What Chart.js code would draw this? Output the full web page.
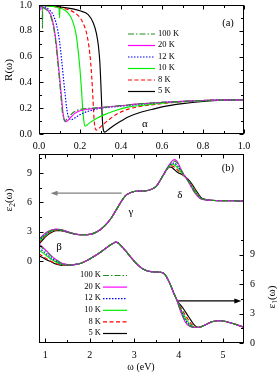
<!DOCTYPE html>
<html><head><meta charset="utf-8">
<script src="https://cdn.jsdelivr.net/npm/chart.js@4.4.0/dist/chart.umd.min.js"></script>
<style>
html,body{margin:0;padding:0;background:#fff;overflow:hidden;}
#wa{position:absolute;left:0;top:0;width:277px;height:150px;}
#wb{position:absolute;left:0;top:150px;width:277px;height:222px;}
</style></head><body>
<div id="wa"><canvas id="cA" width="277" height="150"></canvas></div>
<div id="wb"><canvas id="cB" width="277" height="222"></canvas></div>
<script>
// ---------- series styling ----------
const seriesLabels = ['100 K','20 K','12 K','10 K','8 K','5 K'];
const seriesColors = ['#228b22','#ff00ff','#0000ff','#00ee00','#ff0000','#000000'];
const seriesDash   = [[6,2,1.5,2],[],[1.5,1.5],[],[4,2.5],[]];

// ---------- panel (a): R(omega) ----------
const wA100 = [0,0.01,0.016,0.017,0.018,0.03,0.045,0.055,0.065,0.075,0.085,0.095,0.102,0.108,0.114,0.12,0.127,0.135,0.15,0.17,0.2,0.25,0.3,0.4,0.5,0.6,0.7,0.8,0.9,1.0];
const rA100 = [1.0,0.99,0.985,0.82,0.98,0.97,0.95,0.92,0.87,0.79,0.66,0.5,0.38,0.27,0.17,0.12,0.1,0.115,0.14,0.17,0.19,0.2,0.205,0.22,0.235,0.245,0.253,0.26,0.263,0.265];
const wA20  = [0,0.008,0.009,0.01,0.03,0.045,0.055,0.065,0.075,0.085,0.095,0.103,0.11,0.116,0.122,0.13,0.14,0.155,0.175,0.2,0.25,0.3,0.4,0.5,0.6,0.7,0.8,0.9,1.0];
const rA20  = [1.0,0.995,0.96,0.99,0.975,0.955,0.93,0.885,0.81,0.69,0.53,0.4,0.28,0.18,0.12,0.095,0.105,0.13,0.16,0.18,0.195,0.205,0.22,0.235,0.245,0.253,0.26,0.263,0.265];
const wA12  = [0,0.02,0.04,0.055,0.07,0.085,0.1,0.11,0.12,0.128,0.135,0.142,0.15,0.158,0.17,0.19,0.22,0.26,0.3,0.4,0.5,0.6,0.7,0.8,0.9,1.0];
const rA12  = [1.0,0.99,0.975,0.955,0.92,0.85,0.72,0.58,0.42,0.3,0.2,0.14,0.115,0.11,0.12,0.14,0.165,0.185,0.2,0.215,0.232,0.245,0.253,0.26,0.264,0.267];
const wA10  = [0,0.05,0.098,0.1,0.102,0.13,0.15,0.165,0.18,0.19,0.2,0.207,0.213,0.219,0.225,0.235,0.25,0.28,0.32,0.37,0.44,0.5,0.6,0.7,0.8,0.9,1.0];
const rA10  = [1.0,0.99,0.975,0.9,0.975,0.955,0.92,0.87,0.78,0.66,0.5,0.35,0.2,0.1,0.06,0.07,0.09,0.12,0.15,0.18,0.21,0.222,0.238,0.25,0.258,0.263,0.266];
const wA8   = [0,0.05,0.1,0.15,0.19,0.215,0.235,0.248,0.257,0.263,0.268,0.273,0.28,0.29,0.31,0.34,0.38,0.44,0.5,0.6,0.7,0.8,0.9,1.0];
const rA8   = [1.0,0.993,0.98,0.96,0.92,0.86,0.76,0.62,0.45,0.28,0.13,0.05,0.03,0.04,0.07,0.11,0.155,0.195,0.215,0.235,0.25,0.26,0.265,0.268];
const wA5   = [0,0.1,0.2,0.24,0.265,0.28,0.29,0.297,0.302,0.306,0.31,0.316,0.322,0.335,0.36,0.4,0.44,0.5,0.55,0.6,0.7,0.8,0.9,1.0];
const rA5   = [1.0,0.985,0.955,0.925,0.86,0.78,0.68,0.55,0.38,0.22,0.09,0.02,0.015,0.03,0.06,0.1,0.135,0.17,0.19,0.21,0.235,0.252,0.262,0.266];
const xTicksA = [0,0.2,0.4,0.6,0.8,1.0];
const yTicksA = [0,0.2,0.4,0.6,0.8,1.0];

// ---------- panel (b): eps2 (left) and eps1 (right) ----------
const wB = [0.86,0.95,1.05,1.15,1.25,1.35,1.45,1.55,1.65,1.8,1.95,2.1,2.25,2.4,2.5,2.6,2.7,2.8,2.9,3.0,3.1,3.2,3.3,3.4,3.5,3.6,3.7,3.8,3.85,3.9,3.95,4.0,4.05,4.1,4.15,4.2,4.25,4.3,4.35,4.4,4.45,4.5,4.6,4.7,4.8,4.9,5.0,5.1,5.2,5.3,5.4,5.47];
const e2_100 = [2.15,2.6,2.95,3.16,3.25,3.2,3.06,2.92,2.79, 2.68,2.7,2.85,3.25,3.9,4.5,5.25,6.0,6.65,6.95,7.1,7.15,7.15,7.2,7.35,7.65,8.35, 9.15,9.85,10.1,10.2,10.1,9.8,9.35,8.95,8.6,8.25,7.85,7.45,7.1,6.8,6.55,6.38, 6.25,6.2,6.18,6.17,6.17,6.16,6.16,6.15,6.15,6.15];
const e2_20  = [2.25,2.65,2.98,3.18,3.27,3.22,3.08,2.93,2.8, 2.68,2.7,2.85,3.25,3.9,4.5,5.25,6.0,6.65,6.95,7.1,7.15,7.15,7.2,7.35,7.65,8.35, 9.15,9.9,10.2,10.35,10.25,9.9,9.4,8.95,8.6,8.25,7.85,7.45,7.05,6.75,6.5,6.35, 6.25,6.2,6.18,6.17,6.17,6.16,6.16,6.15,6.15,6.15];
const e2_12  = [2.05,2.5,2.88,3.12,3.22,3.18,3.05,2.91,2.79, 2.68,2.7,2.85,3.25,3.9,4.5,5.25,6.0,6.65,6.95,7.1,7.15,7.15,7.2,7.35,7.65,8.35, 9.15,9.8,9.98,10.0,9.85,9.6,9.25,8.9,8.6,8.3,7.95,7.55,7.2,6.85,6.6,6.4, 6.26,6.2,6.18,6.17,6.17,6.16,6.16,6.15,6.15,6.15];
const e2_10  = [1.95,2.42,2.82,3.08,3.2,3.17,3.04,2.9,2.78, 2.68,2.7,2.85,3.25,3.9,4.5,5.25,6.0,6.65,6.95,7.1,7.15,7.15,7.2,7.35,7.65,8.35, 9.15,9.75,9.88,9.82,9.65,9.4,9.1,8.85,8.6,8.3,8.0,7.65,7.3,6.95,6.65,6.42, 6.27,6.2,6.18,6.17,6.17,6.16,6.16,6.15,6.15,6.15];
const e2_8   = [1.8,2.3,2.72,3.0,3.14,3.13,3.02,2.89,2.78, 2.68,2.7,2.85,3.25,3.9,4.5,5.25,6.0,6.65,6.95,7.1,7.15,7.15,7.2,7.35,7.65,8.35, 9.1,9.7,9.72,9.6,9.4,9.2,9.0,8.8,8.6,8.35,8.05,7.75,7.4,7.05,6.72,6.45, 6.28,6.21,6.18,6.17,6.17,6.16,6.16,6.15,6.15,6.15];
const e2_5   = [1.7,2.2,2.65,2.95,3.1,3.1,3.0,2.88,2.77, 2.68,2.7,2.85,3.25,3.9,4.5,5.25,6.0,6.65,6.95,7.1,7.15,7.15,7.2,7.35,7.65,8.35, 9.1,9.6,9.55,9.35,9.15,9.0,8.9,8.75,8.6,8.4,8.15,7.85,7.5,7.15,6.82,6.5, 6.3,6.22,6.19,6.17,6.17,6.16,6.16,6.15,6.15,6.15];
const e1_100 = [10.0,9.65,9.22,8.8,8.45,8.18,8.04,7.98,8.0, 8.15,8.45,8.85,9.3,9.8,10.1,10.3,9.95,9.45,8.9,8.35,7.9,7.55,7.35,7.28,7.25,7.22, 6.95,6.1,5.55,5.0,4.5, 3.85,3.25,2.7,2.25,1.92,1.74,1.64,1.59,1.58,1.6,1.65, 1.85,2.08,2.22,2.28,2.25,2.15,2.02,1.88,1.72,1.6];
const e1_20  = [10.1,9.75,9.3,8.85,8.5,8.2,8.05,7.98,8.0, 8.15,8.45,8.85,9.3,9.8,10.1,10.3,9.95,9.45,8.9,8.35,7.9,7.55,7.35,7.28,7.25,7.22, 6.95,6.1,5.55,5.0,4.5, 3.8,3.15,2.6,2.15,1.85,1.7,1.62,1.58,1.58,1.6,1.65, 1.85,2.08,2.22,2.28,2.25,2.15,2.02,1.88,1.72,1.6];
const e1_12  = [9.7,9.4,9.0,8.65,8.35,8.1,8.0,7.97,8.0, 8.15,8.45,8.85,9.3,9.8,10.1,10.3,9.95,9.45,8.9,8.35,7.9,7.55,7.35,7.28,7.25,7.22, 6.95,6.1,5.55,5.0,4.5, 3.9,3.35,2.85,2.4,2.05,1.82,1.68,1.61,1.59,1.6,1.65, 1.85,2.08,2.22,2.28,2.25,2.15,2.02,1.88,1.72,1.6];
const e1_10  = [9.5,9.2,8.85,8.5,8.25,8.05,7.97,7.96,8.0, 8.15,8.45,8.85,9.3,9.8,10.1,10.3,9.95,9.45,8.9,8.35,7.9,7.55,7.35,7.28,7.25,7.22, 6.95,6.1,5.55,5.0,4.5, 3.95,3.45,3.0,2.6,2.22,1.93,1.74,1.64,1.6,1.6,1.65, 1.85,2.08,2.22,2.28,2.25,2.15,2.02,1.88,1.72,1.6];
const e1_8   = [9.1,8.85,8.55,8.3,8.1,7.98,7.93,7.95,8.0, 8.15,8.45,8.85,9.3,9.8,10.1,10.3,9.95,9.45,8.9,8.35,7.9,7.55,7.35,7.28,7.25,7.22, 6.95,6.1,5.55,5.0,4.5, 4.0,3.6,3.2,2.85,2.5,2.15,1.88,1.7,1.62,1.6,1.65, 1.85,2.08,2.22,2.28,2.25,2.15,2.02,1.88,1.72,1.6];
const e1_5   = [8.9,8.7,8.45,8.25,8.05,7.95,7.92,7.95,8.0, 8.15,8.45,8.85,9.3,9.8,10.1,10.3,9.95,9.45,8.9,8.35,7.9,7.55,7.35,7.28,7.25,7.22, 6.95,6.1,5.55,5.0,4.5, 4.1,3.85,3.55,3.2,2.85,2.5,2.15,1.85,1.67,1.6,1.65, 1.85,2.08,2.22,2.28,2.25,2.15,2.02,1.88,1.72,1.6];
const xTicksB  = [1,2,3,4,5];
const yTicksE2 = [0,3,6,9];
const yTicksE1 = [0,3,6,9];

// ---------- helpers ----------
const FONT = '"Liberation Serif", "Times New Roman", serif';
function pts(xs, ys){ return xs.map((x,i)=>({x:x, y:ys[i]})); }
function mkDs(label, i, data, axis){
  return {label:label, data:data, yAxisID:axis, borderColor:seriesColors[i], borderDash:seriesDash[i],
    borderWidth:1.15, pointRadius:0, fill:false, cubicInterpolationMode:'monotone'};
}
function range(a,b,s){ const r=[]; for(let v=a; v<=b+1e-9; v+=s) r.push(+v.toFixed(4)); return r; }

function drawSubText(ctx, x, y, parts, rot){
  ctx.save(); ctx.translate(x,y); ctx.rotate(rot); ctx.fillStyle='#000'; ctx.textBaseline='alphabetic'; ctx.textAlign='left';
  let W=0; parts.forEach(p=>{ ctx.font=p[1]+'px '+FONT; W+=ctx.measureText(p[0]).width; });
  let cx=-W/2;
  parts.forEach(p=>{ ctx.font=p[1]+'px '+FONT; ctx.fillText(p[0], cx, 4+p[2]); cx+=ctx.measureText(p[0]).width; });
  ctx.restore();
}

function makeDeco(cfg){
  return {
    id:'deco',
    afterDatasetsDraw(chart){
      const ctx=chart.ctx, a=chart.chartArea;
      ctx.save();
      const L=Math.round(a.left)+0.5, R=Math.round(a.right)-0.5, T=Math.round(a.top)+0.5, B=Math.round(a.bottom)-0.5;
      ctx.strokeStyle='#000'; ctx.lineWidth=1; ctx.setLineDash([]);
      ctx.strokeRect(L,T,R-L,B-T);
      cfg.ticks.forEach(t=>{
        const sc=chart.scales[t.scale];
        t.values.forEach(v=>{
          const p=Math.round(sc.getPixelForValue(v))+0.5;
          t.sides.forEach(s=>{
            ctx.beginPath();
            if(s==='bottom'){ctx.moveTo(p,B);ctx.lineTo(p,B-t.len);}
            if(s==='top'){ctx.moveTo(p,T);ctx.lineTo(p,T+t.len);}
            if(s==='left'){ctx.moveTo(L,p);ctx.lineTo(L+t.len,p);}
            if(s==='right'){ctx.moveTo(R,p);ctx.lineTo(R-t.len,p);}
            ctx.stroke();
          });
        });
      });
      (cfg.arrows||[]).forEach(ar=>{
        const sx=chart.scales[ar.xs], sy=chart.scales[ar.ys];
        const x1=sx.getPixelForValue(ar.from[0]), y1=sy.getPixelForValue(ar.from[1]);
        const x2=sx.getPixelForValue(ar.to[0]), y2=sy.getPixelForValue(ar.to[1]);
        ctx.strokeStyle=ar.color; ctx.fillStyle=ar.color; ctx.lineWidth=1.2;
        const dir=Math.sign(x2-x1);
        ctx.beginPath(); ctx.moveTo(x1,y1); ctx.lineTo(x2-dir*5,y2); ctx.stroke();
        ctx.beginPath(); ctx.moveTo(x2,y2); ctx.lineTo(x2-dir*7,y2-2.5); ctx.lineTo(x2-dir*7,y2+2.5); ctx.closePath(); ctx.fill();
      });
      (cfg.labels||[]).forEach(lb=>{
        const sx=chart.scales[lb.xs], sy=chart.scales[lb.ys];
        ctx.font=lb.size+'px '+FONT; ctx.fillStyle='#000'; ctx.textAlign='center'; ctx.textBaseline='middle';
        ctx.fillText(lb.text, sx.getPixelForValue(lb.at[0]), sy.getPixelForValue(lb.at[1]));
      });
      const lg=cfg.legend;
      ctx.font='8.5px '+FONT; ctx.textBaseline='middle';
      seriesLabels.forEach((lab,i)=>{
        const y=a.top+lg.y0+i*lg.dy;
        ctx.strokeStyle=seriesColors[i]; ctx.lineWidth=1.2; ctx.setLineDash(seriesDash[i]);
        ctx.beginPath(); ctx.moveTo(a.left+lg.l0,y+0.5); ctx.lineTo(a.left+lg.l1,y+0.5); ctx.stroke();
        ctx.setLineDash([]); ctx.fillStyle='#000';
        ctx.textAlign=lg.align; ctx.fillText(lab, a.left+lg.tx, y);
      });
      (cfg.titles||[]).forEach(tt=>drawSubText(ctx, tt.x, tt.y, tt.parts, tt.rot));
      ctx.restore();
    }
  };
}

const tickFont={family:FONT,size:10};

// ---------- chart A ----------
const wAs=[wA100,wA20,wA12,wA10,wA8,wA5], rAs=[rA100,rA20,rA12,rA10,rA8,rA5];
const dsA=seriesLabels.map((lab,i)=>mkDs(lab,i,pts(wAs[i],rAs[i]),'y'));
new Chart(document.getElementById('cA'),{
  type:'line',
  data:{datasets:dsA},
  options:{
    responsive:false, animation:false, devicePixelRatio:1,
    layout:{padding:{left:0,right:33,top:5,bottom:0}},
    plugins:{legend:{display:false},tooltip:{enabled:false}},
    scales:{
      x:{type:'linear',min:0,max:1,grid:{display:false,drawTicks:false},border:{display:false},
        afterBuildTicks:s=>{s.ticks=xTicksA.map(v=>({value:v}));},
        ticks:{padding:6,font:tickFont,color:'#000',maxRotation:0,autoSkip:false,callback:v=>Number(v).toFixed(1)},
        afterFit:s=>{s.height=16;s.paddingLeft=0;s.paddingRight=0;}},
      y:{type:'linear',min:0,max:1,grid:{display:false,drawTicks:false},border:{display:false},
        afterBuildTicks:s=>{s.ticks=yTicksA.map(v=>({value:v}));},
        ticks:{padding:7,font:tickFont,color:'#000',autoSkip:false,callback:v=>Number(v).toFixed(1)},
        afterFit:s=>{s.width=39;s.paddingTop=0;s.paddingBottom=0;}}
    }
  },
  plugins:[makeDeco({
    ticks:[
      {scale:'x',values:xTicksA,sides:['bottom','top'],len:4},
      {scale:'x',values:range(0.1,0.9,0.2),sides:['bottom','top'],len:2.5},
      {scale:'y',values:yTicksA,sides:['left','right'],len:4},
      {scale:'y',values:range(0.1,0.9,0.2),sides:['left','right'],len:2.5}
    ],
    labels:[
      {text:'α',at:[0.517,0.077],xs:'x',ys:'y',size:11},
      {text:'(a)',at:[0.922,0.862],xs:'x',ys:'y',size:10.5}
    ],
    legend:{y0:28.5,dy:11.5,l0:89,l1:116,tx:119,align:'left'},
    titles:[{x:8,y:70,rot:-Math.PI/2,parts:[['R(ω)',11,0]]}]
  })]
});

// ---------- chart B ----------
const e2s=[e2_100,e2_20,e2_12,e2_10,e2_8,e2_5], e1s=[e1_100,e1_20,e1_12,e1_10,e1_8,e1_5];
const dsB=[];
seriesLabels.forEach((lab,i)=>{ dsB.push(mkDs(lab,i,pts(wB,e2s[i]),'yL')); });
seriesLabels.forEach((lab,i)=>{ dsB.push(mkDs(lab,i,pts(wB,e1s[i]),'yR')); });
new Chart(document.getElementById('cB'),{
  type:'line',
  data:{datasets:dsB},
  options:{
    responsive:false, animation:false, devicePixelRatio:1,
    layout:{padding:{left:0,right:0,top:4,bottom:0}},
    plugins:{legend:{display:false},tooltip:{enabled:false}},
    scales:{
      x:{type:'linear',min:0.86,max:5.47,grid:{display:false,drawTicks:false},border:{display:false},
        afterBuildTicks:s=>{s.ticks=xTicksB.map(v=>({value:v}));},
        ticks:{padding:6,font:tickFont,color:'#000',maxRotation:0,autoSkip:false,callback:v=>String(v)},
        afterFit:s=>{s.height=29;s.paddingLeft=0;s.paddingRight=0;}},
      yL:{type:'linear',position:'left',min:-8.37,max:10.93,grid:{display:false,drawTicks:false},border:{display:false},
        afterBuildTicks:s=>{s.ticks=yTicksE2.map(v=>({value:v}));},
        ticks:{padding:7,font:tickFont,color:'#000',autoSkip:false,callback:v=>String(v)},
        afterFit:s=>{s.width=39;s.paddingTop=0;s.paddingBottom=0;}},
      yR:{type:'linear',position:'right',min:0,max:19.3,grid:{display:false,drawTicks:false},border:{display:false},
        afterBuildTicks:s=>{s.ticks=yTicksE1.map(v=>({value:v}));},
        ticks:{padding:6,font:tickFont,color:'#000',autoSkip:false,callback:v=>String(v)},
        afterFit:s=>{s.width=33;s.paddingTop=0;s.paddingBottom=0;}}
    }
  },
  plugins:[makeDeco({
    ticks:[
      {scale:'x',values:xTicksB,sides:['bottom','top'],len:4},
      {scale:'x',values:[1.5,2.5,3.5,4.5],sides:['bottom','top'],len:2.5},
      {scale:'yL',values:[0,3,6,9],sides:['left'],len:4},
      {scale:'yL',values:[1.5,4.5,7.5,10.5],sides:['left'],len:2.5},
      {scale:'yR',values:[0,3,6,9],sides:['right'],len:4},
      {scale:'yR',values:[1.5,4.5,7.5,10.5],sides:['right'],len:2.5}
    ],
    arrows:[
      {xs:'x',ys:'yL',from:[2.72,6.93],to:[1.12,6.93],color:'#808080'},
      {xs:'x',ys:'yR',from:[3.99,4.3],to:[5.41,4.3],color:'#000000'}
    ],
    labels:[
      {text:'β',at:[1.31,1.43],xs:'x',ys:'yL',size:11},
      {text:'γ',at:[2.93,5.0],xs:'x',ys:'yL',size:11},
      {text:'δ',at:[4.03,6.75],xs:'x',ys:'yL',size:11},
      {text:'(b)',at:[5.11,9.5],xs:'x',ys:'yL',size:10.5}
    ],
    legend:{y0:121,dy:11.6,l0:64,l1:88,tx:62,align:'right'},
    titles:[
      {x:8,y:50,rot:-Math.PI/2,parts:[['ε',11,0],['2',7.5,2.5],['(ω)',11,0]]},
      {x:271,y:147,rot:-Math.PI/2,parts:[['ε',11,0],['1',7.5,2.5],['(ω)',11,0]]},
      {x:141,y:216,rot:0,parts:[['ω (eV)',10,0]]}
    ]
  })]
});
</script></body></html>
